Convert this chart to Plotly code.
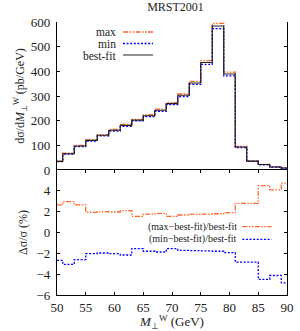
import plotly.graph_objects as go

# bin edges (GeV)
edges = [50, 51, 53, 55, 57, 59, 61, 63, 65, 67, 69, 71, 73, 75, 77, 79, 81, 83, 85, 87, 89, 90]

# dsigma/dM (pb/GeV)
best_fit = [35, 66, 97, 120, 141, 161, 181, 202, 220, 242, 269, 303, 353, 436, 584, 389, 93, 36, 22, 12, 8]
max_vals = [35.9, 68.0, 99.6, 122.3, 143.8, 164.2, 184.8, 205.1, 223.9, 246.5, 273.1, 308.1, 359.1, 443.7, 594.5, 396.4, 95.6, 37.0, 23.0, 12.5, 8.4]
min_vals = [34.1, 64.0, 94.5, 117.6, 138.2, 157.7, 177.1, 198.9, 216.0, 237.5, 264.8, 297.8, 346.9, 428.3, 573.5, 381.5, 90.4, 35.0, 21.0, 11.5, 7.6]

# relative deviations (%)
ratio_max = [2.65, 2.97, 2.65, 1.94, 2.0, 1.97, 2.1, 1.55, 1.77, 1.84, 1.55, 1.68, 1.74, 1.77, 1.8, 1.9, 2.8, 2.8, 4.5, 4.1, 4.74]
ratio_min = [-2.68, -3.06, -2.6, -2.03, -1.97, -2.03, -2.16, -1.55, -1.8, -1.87, -1.55, -1.71, -1.74, -1.77, -1.8, -1.94, -2.84, -2.84, -4.5, -4.13, -4.84]

top_ticks = [0, 100, 200, 300, 400, 500, 600]
bot_ticks = [-6, -4, -2, 0, 2, 4]
x_ticks = [50, 55, 60, 65, 70, 75, 80, 85, 90]

ORANGE = "#ff6428"
BLUE = "#0000ff"
BLACK = "#202020"
DASH_MAX = "5px,1.5px,1.5px,1.5px,1.5px,1.5px"
DASH_MIN = "2px,1.6px"

def stepy(v):
    return list(v) + [v[-1]]

fig = go.Figure()
fig.add_trace(go.Scatter(x=edges, y=stepy(max_vals), mode="lines", line_shape="hv",
                         line=dict(color=ORANGE, width=1.3, dash=DASH_MAX), xaxis="x", yaxis="y2"))
fig.add_trace(go.Scatter(x=edges, y=stepy(min_vals), mode="lines", line_shape="hv",
                         line=dict(color=BLUE, width=1.3, dash=DASH_MIN), xaxis="x", yaxis="y2"))
fig.add_trace(go.Scatter(x=edges, y=stepy(best_fit), mode="lines", line_shape="hv",
                         line=dict(color=BLACK, width=1.1), xaxis="x", yaxis="y2"))
fig.add_trace(go.Scatter(x=edges, y=stepy(ratio_max), mode="lines", line_shape="hv",
                         line=dict(color=ORANGE, width=1.3, dash=DASH_MAX), xaxis="x", yaxis="y"))
fig.add_trace(go.Scatter(x=edges, y=stepy(ratio_min), mode="lines", line_shape="hv",
                         line=dict(color=BLUE, width=1.3, dash=DASH_MIN), xaxis="x", yaxis="y"))

FONT = "Liberation Serif"
split = 125 / 273

axis_common = dict(showgrid=False, zeroline=False, showline=True, linecolor="black", linewidth=1.2,
                   mirror="ticks", ticks="inside", ticklen=3, tickcolor="black",
                   tickfont=dict(family=FONT, size=13, color="#222"))

fig.update_layout(
    width=300, height=331,
    margin=dict(l=57, r=6, t=22, b=36),
    paper_bgcolor="white", plot_bgcolor="white",
    showlegend=False,
    font=dict(family=FONT, size=12, color="#222"),
    title=dict(text="MRST2001", x=(57 + 294) / 2 / 300, xanchor="center", y=1 - 7 / 331, yanchor="middle",
               font=dict(family=FONT, size=12, color="#222")),
    xaxis=dict(range=[50, 90], tickvals=x_ticks, domain=[0, 1], anchor="y", ticklabeloverflow="allow",
               title=dict(text="<i>M</i><sub>⊥</sub><sup>W</sup> (GeV)", standoff=1,
                          font=dict(family=FONT, size=13)), **axis_common),
    xaxis2=dict(range=[50, 90], tickvals=x_ticks, showticklabels=False, anchor="y2", matches="x",
                **axis_common),
    yaxis=dict(range=[-6, 6], tickvals=bot_ticks, domain=[0, split], anchor="x", ticklabelstandoff=3,
               title=dict(text="Δσ/σ (%)", standoff=6, font=dict(family=FONT, size=12)), **axis_common),
    yaxis2=dict(range=[0, 600], tickvals=top_ticks, domain=[split, 1], anchor="x", ticklabelstandoff=3,
                title=dict(text="dσ/d<i>M</i><sub>⊥</sub><sup>W</sup> (pb/GeV)", standoff=3,
                           font=dict(family=FONT, size=12)), **axis_common),
)

# top legend (text right-aligned, sample on the right)
top_legend = [("max", ORANGE, DASH_MAX, 32), ("min", BLUE, DASH_MIN, 43.5), ("best-fit", "#555555", "solid", 55)]
for label, col, dash, ypx in top_legend:
    yp = 1 - (ypx - 22) / 273
    fig.add_annotation(text=label, xref="paper", yref="paper", x=(119 - 57) / 237, y=yp,
                       xanchor="right", yanchor="middle", showarrow=False, height=11, borderpad=0,
                       font=dict(family=FONT, size=11.5, color="#222"))
    fig.add_shape(type="line", xref="paper", yref="paper", x0=(125 - 57) / 237, x1=(156 - 57) / 237,
                  y0=yp, y1=yp, line=dict(color=col, width=1.3, dash=dash))

bot_legend = [("(max−best-fit)/best-fit", ORANGE, DASH_MAX, 226.7),
              ("(min−best-fit)/best-fit", BLUE, DASH_MIN, 239.3)]
for label, col, dash, ypx in bot_legend:
    yp = 1 - (ypx - 22) / 273
    fig.add_annotation(text=label, xref="paper", yref="paper", x=(243 - 57) / 237, y=yp,
                       xanchor="right", yanchor="middle", showarrow=False, height=12, borderpad=0,
                       font=dict(family=FONT, size=10, color="#222"))
    fig.add_shape(type="line", xref="paper", yref="paper", x0=(248 - 57) / 237, x1=(278 - 57) / 237,
                  y0=yp, y1=yp, line=dict(color=col, width=1.3, dash=dash))

fig.write_html("out.html", config={"displayModeBar": False},
               post_script="document.body.style.margin='0';")
